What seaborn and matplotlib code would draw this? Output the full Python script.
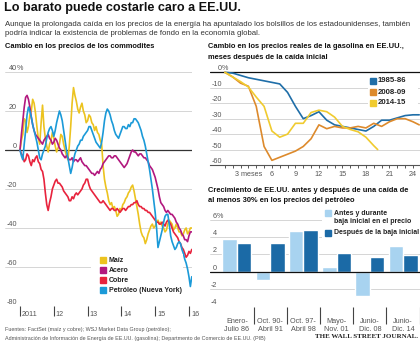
import matplotlib
matplotlib.use("Agg")
import matplotlib.pyplot as plt
import matplotlib.transforms as mtransforms
from matplotlib.patches import Rectangle
from matplotlib.lines import Line2D
import pandas as pd
import seaborn as sns

# ---------------------------------------------------------------- data
# Commodity prices, % change since January 2011, twice a month (Jan 2011 - Jan 2016)
commodity_months = [k / 2 for k in range(123)]
maiz = [0, 5, 8, 16, 15, 9, 12, 18, 20, 26,
        24, 19, 12, 6, 3, 14, 23, 12, 6, 2,
        -1, 3, 5, 9, 6, 2, -1, 1, 3, 8,
        7, 3, 0, -3, -5, 2, 12, 24, 32, 28,
        25, 21, 19, 22, 24, 20, 18, 14, 15, 18,
        17, 14, 13, 10, 12, 9, 8, 5, 3, -8,
        -15, -19, -22, -26, -28, -27, -30, -29, -31, -34,
        -33, -30, -31, -28, -27, -25, -24, -22, -21, -19,
        -18, -21, -25, -29, -33, -38, -42, -44, -45, -48,
        -46, -43, -41, -39, -38, -40, -39, -37, -36, -38,
        -37, -39, -40, -42, -41, -38, -36, -37, -38, -41,
        -40, -38, -40, -42, -42, -44, -43, -41, -40, -43,
        -42, -40, -40]
acero = [0, 8, 15, 22, 27, 28, 26, 22, 17, 13,
         10, 8, 7, 6, 5, 4, 3, 5, 6, 7,
         8, 6, 5, 3, 4, 6, 5, 3, 1, 0,
         -2, -3, -4, -3, -4, -5, -5, -4, -6, -5,
         -5, -6, -5, -4, -6, -7, -8, -8, -9, -10,
         -11, -12, -12, -13, -12, -11, -12, -10, -9, -7,
         -6, -5, -4, -3, -3, -4, -4, -3, -3, -4,
         -5, -6, -7, -8, -9, -8, -7, -5, -3, -1,
         0, -1, -1, -2, -3, -2, -2, -3, -4, -4,
         -5, -6, -8, -9, -10, -12, -14, -17, -20, -24,
         -27, -28, -29, -31, -32, -31, -32, -33, -33, -34,
         -35, -37, -38, -40, -41, -43, -44, -46, -46, -47,
         -44, -42, -42]
cobre = [0, -2, -3, -6, -5, -2, -3, -6, -8, -5,
         -6, -4, -3, -6, -7, -10, -11, -15, -22, -28,
         -31, -27, -24, -20, -18, -16, -15, -17, -17, -18,
         -19, -21, -22, -23, -24, -26, -26, -24, -25, -23,
         -22, -23, -22, -21, -20, -18, -17, -15, -15, -18,
         -20, -21, -22, -23, -24, -25, -26, -27, -27, -26,
         -27, -28, -29, -30, -31, -30, -30, -31, -31, -30,
         -31, -32, -31, -30, -30, -31, -30, -29, -29, -28,
         -28, -27, -27, -26, -28, -29, -29, -30, -30, -31,
         -31, -32, -32, -33, -34, -35, -36, -37, -37, -38,
         -38, -37, -38, -39, -37, -36, -37, -38, -40, -42,
         -43, -44, -45, -47, -48, -50, -51, -53, -55, -54,
         -52, -53, -51]
petroleo = [0, -3, -5, 3, 10, 18, 22, 20, 17, 13,
            10, 7, 4, 0, -4, -5, -2, 0, 2, 6,
            9, 11, 12, 10, 7, 10, 14, 17, 20, 18,
            15, 10, 5, 0, -4, -8, -12, -9, -5, -2,
            0, 2, 3, 5, 5, 7, 8, 9, 10, 12,
            12, 10, 8, 6, 4, 3, 2, 1, 4, 9,
            15, 19, 21, 20, 18, 15, 13, 10, 8, 7,
            6, 8, 10, 12, 12, 11, 11, 13, 12, 14,
            14, 16, 16, 15, 14, 12, 10, 7, 5, 2,
            -2, -6, -10, -15, -20, -26, -32, -40, -50, -47,
            -44, -41, -37, -34, -33, -33, -38, -44, -47, -49,
            -51, -50, -48, -47, -48, -51, -53, -56, -58, -61,
            -65, -70, -65]
commodity_names = ["Maíz", "Acero", "Cobre", "Petróleo (Nueva York)"]
commodity_colors = ["#ecc31f", "#b2187e", "#e8233d", "#1b9ad8"]
year_ticks = [2011, 2012, 2013, 2014, 2015, 2016]
year_labels = ["2011", "12", "13", "14", "15", "16"]
commodity_yticks = [40, 20, 0, -20, -40, -60, -80]

# Real gasoline prices, % change by months after the initial drop
gas_months = list(range(25)) + [24.8]
gas_1985 = [0, -0.5, -2, -3.5, -4.5, -5.5, -6.5, -7.5, -13, -22,
            -30, -28, -25.5, -31, -34, -35, -36, -37, -38, -35,
            -31, -31, -29.5, -28, -27.5, -27.5]
gas_2008 = [0, -3, -7, -9, -22, -48, -57, -55, -53, -51,
            -48, -43, -34, -36.5, -35, -36, -36, -35, -36, -33,
            -35, -32, -30, -30, -32, -34]
gas_months_2014 = list(range(20)) + [19.5]
gas_2014 = [0, -3, -6, -9.5, -16, -22, -38, -42, -40, -33,
            -33, -26, -24.5, -25.5, -29, -35, -37, -38.5, -42, -47.5,
            -50]
gas_names = ["1985-86", "2008-09", "2014-15"]
gas_colors = ["#1f6ea8", "#dd8a2c", "#f0cb2f"]
gas_yticks = [0, -10, -20, -30, -40, -50, -60]
gas_xticks = [3, 6, 9, 12, 15, 18, 21, 24]
gas_xlabels = ["3 meses", "6", "9", "12", "15", "18", "21", "24"]

# US GDP growth around oil-price drops of at least 30%
periodos = ["Enero-\nJulio 86", "Oct. 90-\nAbril 91", "Oct. 97-\nAbril 98",
            "Mayo-\nNov. 01", "Junio-\nDic. 08", "Junio-\nDic. 14"]
antes = [3.8, -0.9, 4.7, 0.5, -2.8, 3.0]
despues = [3.3, 3.3, 4.8, 2.1, 1.7, 1.9]
gdp_names = ["Antes y durante\nbaja inicial en el precio", "Después de la baja inicial"]
gdp_colors = ["#a8d3f0", "#1b6aa6"]
gdp_yticks = [6, 4, 2, 0, -2, -4]

# ---------------------------------------------------------------- style
sns.set_theme(style="white")
plt.rcParams["font.family"] = ["Liberation Sans", "DejaVu Sans"]

W, H = 420, 346
fig = plt.figure(figsize=(W / 100, H / 100), dpi=100)
fig.patch.set_facecolor("white")

TICK_COLOR = "#555555"
GRID_COLOR = "#cfcfcf"
ZERO_COLOR = "#333333"
HEAD_SIZE = 5.4


def rect(x0, y0, x1, y1):
    return [x0 / W, 1 - y1 / H, (x1 - x0) / W, (y1 - y0) / H]


def fx(x):
    return x / W


def fy(y):
    return 1 - y / H


def ylabels(ax, ticks, x_px, x0_px, x1_px, size=5.2):
    """Value labels sitting just above each gridline, % sign hanging right."""
    frac = (x_px - x0_px) / (x1_px - x0_px)
    base = mtransforms.blended_transform_factory(ax.transAxes, ax.transData)
    tr = mtransforms.offset_copy(base, fig=fig, x=0, y=2, units="dots")
    for i, v in enumerate(ticks):
        ax.text(frac, v, str(v), transform=tr, ha="right", va="baseline",
                fontsize=size, color=TICK_COLOR, clip_on=False)
        if i == 0:
            ax.text(frac, v, "%", transform=tr, ha="left", va="baseline",
                    fontsize=size, color=TICK_COLOR, clip_on=False)


def clean(ax):
    for s in ax.spines.values():
        s.set_visible(False)
    ax.set_xlabel("")
    ax.set_ylabel("")
    ax.set_yticks([])
    ax.patch.set_alpha(0)


# ---------------------------------------------------------------- headings
fig.text(fx(4), fy(2.5), "Lo barato puede costarle caro a EE.UU.", fontsize=9.1,
         fontweight="bold", color="#111111", ha="left", va="top")
fig.text(fx(5), fy(24), "Aunque la prolongada caída en los precios de la energía ha apuntalado "
         "los bolsillos de los estadounidenses, también", fontsize=5.6, color="#333333",
         ha="left", va="center")
fig.text(fx(5), fy(33.5), "podría indicar la existencia de problemas de fondo en la economía global.",
         fontsize=5.6, color="#333333", ha="left", va="center")

fig.text(fx(5), fy(47), "Cambio en los precios de los commodites", fontsize=HEAD_SIZE,
         fontweight="bold", color="#111111", ha="left", va="center")
fig.text(fx(208), fy(47), "Cambio en los precios reales de la gasolina en EE.UU.,",
         fontsize=HEAD_SIZE, fontweight="bold", color="#111111", ha="left", va="center")
fig.text(fx(208), fy(57.5), "meses después de la caída inicial",
         fontsize=HEAD_SIZE, fontweight="bold", color="#111111", ha="left", va="center")
fig.text(fx(208), fy(190), "Crecimiento de EE.UU. antes y después de una caída de",
         fontsize=HEAD_SIZE, fontweight="bold", color="#111111", ha="left", va="center")
fig.text(fx(208), fy(200.5), "al menos 30% en los precios del petróleo",
         fontsize=HEAD_SIZE, fontweight="bold", color="#111111", ha="left", va="center")

# ---------------------------------------------------------------- commodities
ax1 = fig.add_axes(rect(5, 72, 192, 306))
df1 = pd.concat([
    pd.DataFrame({"fecha": [2011 + m / 12 for m in commodity_months],
                  "cambio": vals, "serie": name})
    for name, vals in zip(commodity_names, [maiz, acero, cobre, petroleo])
])
sns.lineplot(data=df1, x="fecha", y="cambio", hue="serie", hue_order=commodity_names,
             palette=commodity_colors, linewidth=1.2, estimator=None, sort=False,
             legend=False, ax=ax1, zorder=3)
clean(ax1)
ax1.set_xlim(2010.556, 2016.09)
ax1.set_ylim(-80, 40)
for v in commodity_yticks:
    ax1.axhline(v, color=ZERO_COLOR if v == 0 else GRID_COLOR,
                lw=0.9 if v == 0 else 0.6, zorder=1)
ylabels(ax1, commodity_yticks, 17, 5, 192)
ax1.set_xticks(year_ticks)
ax1.set_xticklabels([])
ax1.tick_params(axis="x", bottom=True, length=7, width=0.8, color="#444444",
                direction="out")
xtr = mtransforms.offset_copy(
    mtransforms.blended_transform_factory(ax1.transData, ax1.transAxes),
    fig=fig, x=2, y=-9, units="dots")
for yr, lab in zip(year_ticks, year_labels):
    ax1.text(yr, 0, lab, transform=xtr, ha="left", va="center", fontsize=5.2,
             color=TICK_COLOR, clip_on=False)

# legend block with white backing over the grid
fig.add_artist(Rectangle((fx(91), fy(296)), (183 - 91) / W, (296 - 254) / H,
                         transform=fig.transFigure, facecolor="white",
                         edgecolor="none", zorder=2))
for i, (name, col) in enumerate(zip(commodity_names, commodity_colors)):
    y = 260 + 10 * i
    fig.add_artist(Line2D([fx(103)], [fy(y)], marker="s", markersize=4.2,
                          color=col, linestyle="none", transform=fig.transFigure,
                          zorder=4))
    fig.text(fx(108.5), fy(y), name, fontsize=5.0, fontweight="bold",
             color="#222222", ha="left", va="center", zorder=4)

# ---------------------------------------------------------------- gasoline
ax2 = fig.add_axes(rect(210, 70.8, 420, 165))
df2 = pd.concat([
    pd.DataFrame({"mes": gas_months, "cambio": gas_1985, "serie": gas_names[0]}),
    pd.DataFrame({"mes": gas_months, "cambio": gas_2008, "serie": gas_names[1]}),
    pd.DataFrame({"mes": gas_months_2014, "cambio": gas_2014, "serie": gas_names[2]}),
])
sns.lineplot(data=df2, x="mes", y="cambio", hue="serie", hue_order=gas_names,
             palette=gas_colors, linewidth=1.2, estimator=None, sort=False,
             legend=False, ax=ax2, zorder=3)
clean(ax2)
ax2.set_xlim(-1.9, 24.9)
ax2.set_ylim(-60, 1)
for v in gas_yticks[1:-1]:
    ax2.axhline(v, color=GRID_COLOR, lw=0.6, zorder=1)
ax2.axhline(0, color="#111111", lw=0.9, zorder=2)
ax2.spines["bottom"].set_visible(True)
ax2.spines["bottom"].set_color("#555555")
ax2.spines["bottom"].set_linewidth(0.8)
ylabels(ax2, gas_yticks, 222, 210, 420)
ax2.set_xticks(gas_xticks)
ax2.set_xticklabels(gas_xlabels)
ax2.set_xticks(range(0, 25), minor=True)
ax2.tick_params(axis="x", which="both", bottom=True, length=2.5, width=0.7,
                color="#555555", direction="out", pad=1.5, labelsize=5.2,
                labelcolor=TICK_COLOR)

fig.add_artist(Rectangle((fx(368), fy(108)), 50 / W, 33 / H,
                         transform=fig.transFigure, facecolor="white",
                         edgecolor="none", zorder=2))
for i, (name, col) in enumerate(zip(gas_names, gas_colors)):
    y = 81 + 11 * i
    fig.add_artist(Line2D([fx(373)], [fy(y)], marker="s", markersize=4.2,
                          color=col, linestyle="none", transform=fig.transFigure,
                          zorder=4))
    fig.text(fx(378), fy(y), name, fontsize=5.6, fontweight="bold",
             color="#222222", ha="left", va="center", zorder=4)

# ---------------------------------------------------------------- GDP bars
ax3 = fig.add_axes(rect(210, 219.5, 420, 306.5))
df3 = pd.DataFrame({
    "periodo": periodos * 2,
    "crecimiento": antes + despues,
    "serie": [gdp_names[0]] * len(periodos) + [gdp_names[1]] * len(periodos),
})
sns.barplot(data=df3, x="periodo", y="crecimiento", hue="serie", hue_order=gdp_names,
            palette=gdp_colors, saturation=1, width=0.87, gap=0, legend=False,
            errorbar=None, ax=ax3, zorder=3)
clean(ax3)
ax3.set_xlim(-0.81, 5.51)
ax3.set_ylim(-4, 6)
for v in gdp_yticks:
    ax3.axhline(v, color="#111111" if v == 0 else GRID_COLOR,
                lw=0.9 if v == 0 else 0.6, zorder=1 if v else 4)
ylabels(ax3, gdp_yticks, 217, 210, 420)
ax3.set_xticks(range(len(periodos)))
ax3.set_xticklabels(periodos, fontsize=5.2, color=TICK_COLOR, linespacing=1.2)
ax3.set_xticks([i + 0.5 for i in range(len(periodos))], minor=True)
ax3.tick_params(axis="x", which="major", bottom=False, pad=2)
ax3.tick_params(axis="x", which="minor", bottom=True, length=12, width=0.8,
                color="#444444", direction="out")

fig.add_artist(Rectangle((fx(322), fy(239)), 98 / W, 31 / H,
                         transform=fig.transFigure, facecolor="white",
                         edgecolor="none", zorder=2))
fig.add_artist(Line2D([fx(327.5)], [fy(213)], marker="s", markersize=4.2,
                      color=gdp_colors[0], linestyle="none",
                      transform=fig.transFigure, zorder=4))
fig.text(fx(334), fy(217.5), gdp_names[0], fontsize=5.0, fontweight="bold",
         color="#222222", ha="left", va="center", linespacing=1.05, zorder=4)
fig.add_artist(Line2D([fx(327.5)], [fy(233)], marker="s", markersize=4.2,
                      color=gdp_colors[1], linestyle="none",
                      transform=fig.transFigure, zorder=4))
fig.text(fx(334), fy(233), gdp_names[1], fontsize=5.0, fontweight="bold",
         color="#222222", ha="left", va="center", zorder=4)

# ---------------------------------------------------------------- footer
fig.text(fx(5), fy(330), "Fuentes: FactSet (maíz y cobre); WSJ Market Data Group (petróleo);",
         fontsize=3.9, color="#555555", ha="left", va="center")
fig.text(fx(5), fy(338.5), "Administración de Información de Energía de EE.UU. (gasolina); "
         "Departmento de Comercio de EE.UU. (PIB)",
         fontsize=3.9, color="#555555", ha="left", va="center")
fig.text(fx(418), fy(337), "THE WALL STREET JOURNAL.", fontsize=5.0,
         fontweight="bold", family=["Liberation Serif", "DejaVu Serif"],
         color="#222222", ha="right", va="center")

fig.savefig("out.png", dpi=100, facecolor="white")
